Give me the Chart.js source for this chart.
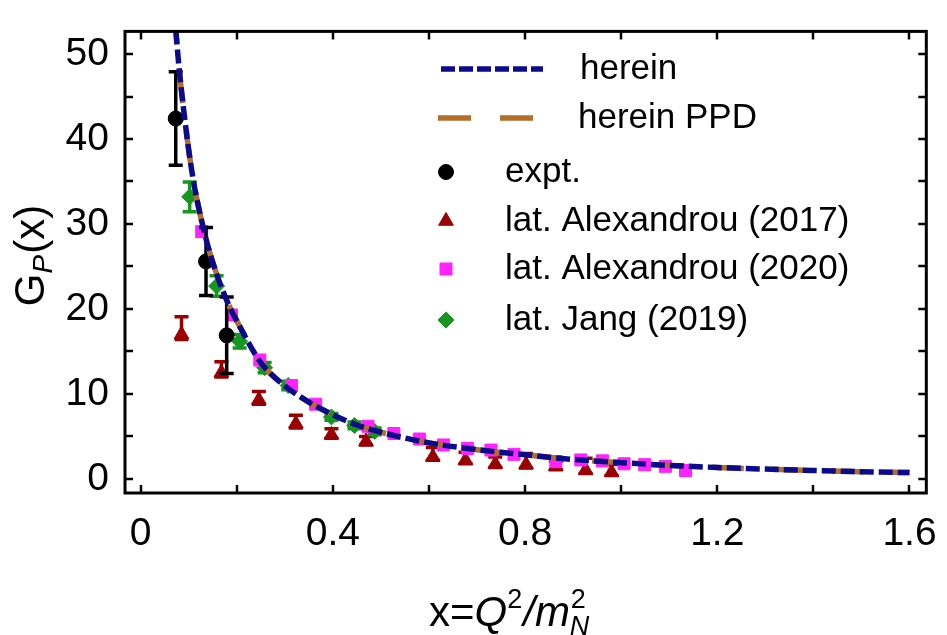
<!DOCTYPE html>
<html>
<head>
<meta charset="utf-8">
<title>G_P(x)</title>
<script src="https://cdn.jsdelivr.net/npm/chart.js@4.4.1/dist/chart.umd.min.js"></script>
<style>
  html, body { margin: 0; padding: 0; background: #fff; }
</style>
</head>
<body>
<canvas id="myChart" width="947" height="635"></canvas>
<script>
const FONT = "'Liberation Sans', Arial, sans-serif";

// curves: G_P(x) herein and with PPD
const curveX = [0.07, 0.08, 0.09, 0.10, 0.11, 0.12, 0.14, 0.16, 0.18, 0.20, 0.25, 0.30, 0.35, 0.40, 0.45, 0.50,
                0.60, 0.70, 0.80, 0.90, 1.00, 1.10, 1.20, 1.30, 1.40, 1.50, 1.60];
const hereinY = [55.0, 48.3, 43.2, 38.7, 35.0, 32.1, 27.4, 23.8, 20.9, 18.6, 13.7, 10.95, 9.05, 7.55, 6.35, 5.5,
                 4.25, 3.45, 2.85, 2.3, 1.92, 1.6, 1.35, 1.16, 1.0, 0.86, 0.75];
const ppdY = [55.0, 48.3, 43.2, 38.7, 35.0, 32.1, 27.4, 23.8, 20.9, 18.6, 13.7, 10.95, 9.05, 7.55, 6.35, 5.5,
              4.25, 3.45, 2.85, 2.3, 1.92, 1.6, 1.35, 1.16, 1.0, 0.86, 0.75];

// experiment
const exptX = [0.073, 0.136, 0.179];
const exptY = [42.4, 25.6, 16.9];
const exptErr = [5.5, 4.0, 4.5];

// lattice, Alexandrou 2017
const alex17X = [0.085, 0.168, 0.246, 0.323, 0.397, 0.469, 0.608, 0.676, 0.738, 0.802, 0.864, 0.926, 0.980];
const alex17Y = [17.0, 12.5, 9.3, 6.5, 5.2, 4.4, 2.6, 2.2, 1.75, 1.7, 1.5, 1.05, 0.8];
const alex17Up = [2.1, 1.3, 1.0, 1.0, 0.7, 0.6, 1.1, 0.95, 0.85, 1.3, 0.6, 1.4, 0.9];
const alex17Down = [0.6, 0.5, 0.5, 0.5, 0.4, 0.4, 0.4, 0.4, 0.4, 0.4, 0.4, 0.4, 0.4];

// lattice, Alexandrou 2020
const alex20X = [0.127, 0.189, 0.248, 0.314, 0.364, 0.473, 0.527, 0.580, 0.630, 0.680, 0.729, 0.777,
                 0.864, 0.916, 0.961, 1.006, 1.049, 1.092, 1.134];
const alex20Y = [29.1, 19.3, 14.0, 11.0, 8.8, 6.2, 5.35, 4.7, 4.0, 3.6, 3.4, 2.9,
                 2.05, 2.24, 2.13, 1.79, 1.68, 1.49, 1.0];

// lattice, Jang 2019
const jangX = [0.102, 0.158, 0.206, 0.258, 0.307, 0.397, 0.445, 0.487];
const jangY = [33.2, 22.7, 16.2, 13.1, 11.0, 7.3, 6.3, 5.6];
const jangErr = [1.75, 1.2, 0.8, 0.6, 0.5, 0.4, 0.4, 0.4];

// axis ticks
const xTicks = [0, 0.2, 0.4, 0.6, 0.8, 1.0, 1.2, 1.4, 1.6];
const xTickLabels = ['0', '', '0.4', '', '0.8', '', '1.2', '', '1.6'];
const yTicks = [0, 5, 10, 15, 20, 25, 30, 35, 40, 45, 50];
const yTickLabels = ['0', '', '10', '', '20', '', '30', '', '40', '', '50'];

function pts(xs, ys) {
    return xs.map((x, i) => ({x: x, y: ys[i]}));
}

// error bars, drawn right before each dataset's markers
const errorBars = {
    id: 'errorBars',
    beforeDatasetDraw(chart, args) {
        const ds = chart.data.datasets[args.index];
        if (!ds.errUp) return;
        const {ctx, scales: {x, y}} = chart;
        ctx.save();
        ctx.strokeStyle = ds.errColor;
        ctx.lineWidth = 3.5;
        ds.data.forEach((p, i) => {
            const px = x.getPixelForValue(p.x);
            const top = y.getPixelForValue(p.y + ds.errUp[i]);
            const bot = y.getPixelForValue(p.y - ds.errDown[i]);
            ctx.beginPath();
            ctx.moveTo(px, top); ctx.lineTo(px, bot);
            ctx.moveTo(px - 7, top); ctx.lineTo(px + 7, top);
            ctx.moveTo(px - 7, bot); ctx.lineTo(px + 7, bot);
            ctx.stroke();
        });
        ctx.restore();
    }
};

// frame with inward ticks on all four sides
const frame = {
    id: 'frame',
    afterDatasetsDraw(chart) {
        const {ctx, chartArea: a, scales: {x, y}} = chart;
        ctx.save();
        ctx.strokeStyle = '#000';
        ctx.lineWidth = 2.5;
        ctx.beginPath();
        xTicks.forEach(v => {
            const px = Math.round(x.getPixelForValue(v));
            ctx.moveTo(px, a.bottom); ctx.lineTo(px, a.bottom - 8);
            ctx.moveTo(px, a.top); ctx.lineTo(px, a.top + 8);
        });
        yTicks.forEach(v => {
            const py = Math.round(y.getPixelForValue(v));
            ctx.moveTo(a.left, py); ctx.lineTo(a.left + 8, py);
            ctx.moveTo(a.right, py); ctx.lineTo(a.right - 8, py);
        });
        ctx.stroke();
        ctx.lineWidth = 3;
        ctx.strokeRect(a.left, a.top, a.right - a.left, a.bottom - a.top);
        ctx.restore();
    }
};

// legend inside the plot + axis titles
const legendAndTitles = {
    id: 'legendAndTitles',
    afterDraw(chart) {
        const ctx = chart.ctx;
        ctx.save();
        ctx.textBaseline = 'middle';
        ctx.fillStyle = '#000';
        const rows = [69, 118, 172, 221, 269, 320];
        chart.data.datasets.forEach((ds, i) => {
            const yy = rows[i];
            if (ds.type === 'line') {
                ctx.save();
                ctx.strokeStyle = ds.borderColor;
                ctx.lineWidth = ds.borderWidth;
                ctx.setLineDash(ds.legendDash);
                ctx.beginPath();
                ctx.moveTo(ds.legendFrom, yy); ctx.lineTo(ds.legendTo, yy);
                ctx.stroke();
                ctx.restore();
            } else {
                ctx.save();
                ctx.fillStyle = ds.backgroundColor;
                ctx.strokeStyle = ds.borderColor;
                ctx.lineWidth = 1;
                Chart.helpers.drawPoint(ctx, {pointStyle: ds.pointStyle, rotation: 0, radius: ds.pointRadius, borderWidth: 1}, 446, yy);
                ctx.restore();
            }
            ctx.font = '35px ' + FONT;
            ctx.fillStyle = '#000';
            ctx.fillText(ds.label, ds.legendText, yy);
        });

        // y title: G_P(x)
        ctx.save();
        ctx.translate(44, 256);
        ctx.rotate(-Math.PI / 2);
        ctx.textBaseline = 'alphabetic';
        ctx.font = '42px ' + FONT;
        let w = ctx.measureText('G').width;
        ctx.font = 'italic 28px ' + FONT;
        w += ctx.measureText('P').width;
        ctx.font = '42px ' + FONT;
        w += ctx.measureText('(x)').width;
        let cx = -w / 2;
        ctx.fillText('G', cx, 0); cx += ctx.measureText('G').width;
        ctx.font = 'italic 28px ' + FONT;
        ctx.fillText('P', cx, 8); cx += ctx.measureText('P').width + 1;
        ctx.font = '42px ' + FONT;
        ctx.fillText('(x)', cx, 0);
        ctx.restore();

        // x title: x=Q^2/m_N^2
        ctx.save();
        ctx.textBaseline = 'alphabetic';
        let bx = 429;
        const by = 626;
        ctx.font = '42px ' + FONT;
        ctx.fillText('x=', bx, by); bx += ctx.measureText('x=').width;
        ctx.font = 'italic 42px ' + FONT;
        ctx.fillText('Q', bx, by); bx += ctx.measureText('Q').width;
        ctx.font = '27px ' + FONT;
        ctx.fillText('2', bx, by - 18); bx += ctx.measureText('2').width + 1;
        ctx.font = 'italic 42px ' + FONT;
        ctx.fillText('/m', bx, by); bx += ctx.measureText('/m').width;
        ctx.font = '27px ' + FONT;
        ctx.fillText('2', bx + 1, by - 18);
        ctx.font = 'italic 27px ' + FONT;
        ctx.fillText('N', bx, by + 9);
        ctx.restore();

        ctx.restore();
    }
};

new Chart(document.getElementById('myChart'), {
    type: 'scatter',
    data: {
        datasets: [
            {
                type: 'line', label: 'herein', data: pts(curveX, hereinY),
                borderColor: '#0B0B8C', borderWidth: 5.5, borderDash: [14, 5], borderCapStyle: 'butt',
                cubicInterpolationMode: 'monotone', pointRadius: 0, fill: false, order: 0,
                legendDash: [14, 4], legendFrom: 441, legendTo: 543, legendText: 580
            },
            {
                type: 'line', label: 'herein PPD', data: pts(curveX, ppdY),
                borderColor: '#B36E2C', borderWidth: 5.5, borderDash: [32, 28], borderCapStyle: 'butt',
                cubicInterpolationMode: 'monotone', pointRadius: 0, fill: false, order: 1,
                legendDash: [33, 29], legendFrom: 438, legendTo: 533, legendText: 578
            },
            {
                label: 'expt.', data: pts(exptX, exptY), errUp: exptErr, errDown: exptErr, errColor: '#000',
                pointStyle: 'circle', pointRadius: 7.5, backgroundColor: '#000', borderColor: '#000',
                borderWidth: 1, order: 2, legendText: 505
            },
            {
                label: 'lat. Alexandrou (2017)', data: pts(alex17X, alex17Y), errUp: alex17Up, errDown: alex17Down,
                errColor: '#9A0000', pointStyle: 'triangle', pointRadius: 8.5, backgroundColor: '#9A0000',
                borderColor: '#9A0000', borderWidth: 1, order: 5, legendText: 505
            },
            {
                label: 'lat. Alexandrou (2020)', data: pts(alex20X, alex20Y),
                pointStyle: 'rect', pointRadius: 8.5, backgroundColor: '#FF22FF', borderColor: '#FF22FF',
                borderWidth: 1, order: 3, legendText: 505
            },
            {
                label: 'lat. Jang (2019)', data: pts(jangX, jangY), errUp: jangErr, errDown: jangErr,
                errColor: '#15961E', pointStyle: 'rectRot', pointRadius: 8, backgroundColor: '#15961E',
                borderColor: '#15961E', borderWidth: 1, order: 4, legendText: 505
            }
        ]
    },
    options: {
        responsive: false,
        animation: false,
        layout: {padding: {top: 8, right: 19, left: 0, bottom: 0}},
        plugins: {legend: {display: false}, tooltip: {enabled: false}},
        scales: {
            x: {
                type: 'linear', min: -0.0326, max: 1.635,
                afterFit(s) { s.height = 142; },
                afterBuildTicks(s) { s.ticks = xTicks.map(v => ({value: v})); },
                grid: {display: false}, border: {display: false},
                ticks: {
                    autoSkip: false, maxRotation: 0, padding: 10, color: '#000',
                    font: {family: FONT, size: 39},
                    callback: (v, i) => xTickLabels[i]
                }
            },
            y: {
                type: 'linear', min: -1.65, max: 52.66,
                afterFit(s) { s.width = 125; },
                afterBuildTicks(s) { s.ticks = yTicks.map(v => ({value: v})); },
                grid: {display: false}, border: {display: false},
                ticks: {
                    autoSkip: false, padding: 8, color: '#000',
                    font: {family: FONT, size: 39},
                    callback: (v, i) => yTickLabels[i]
                }
            }
        }
    },
    plugins: [errorBars, frame, legendAndTitles]
});
</script>
</body>
</html>
